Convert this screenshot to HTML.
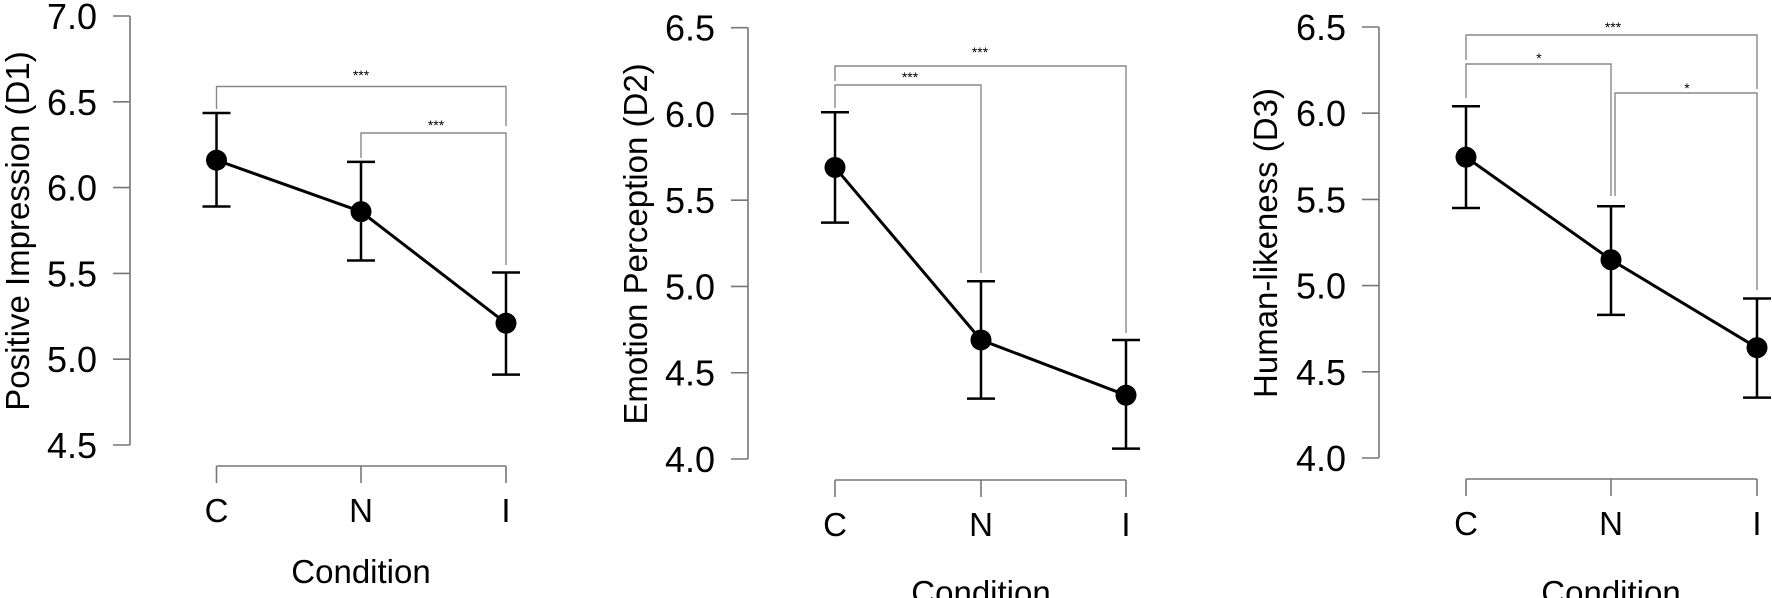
<!DOCTYPE html>
<html><head><meta charset="utf-8"><style>
html,body{margin:0;padding:0;background:#fff}
svg{display:block}
text{font-family:"Liberation Sans",Arial,sans-serif;fill:#000}
</style></head><body>
<svg id="chart" width="1772" height="598" viewBox="0 0 1772 598" xmlns="http://www.w3.org/2000/svg"></svg>
<script>
const categories = ["C","N","I"];
const d1Means = [6.16, 5.86, 5.21];
const d1Upper = [6.435, 6.15, 5.505];
const d1Lower = [5.89, 5.575, 4.91];
const d2Means = [5.69, 4.69, 4.37];
const d2Upper = [6.01, 5.03, 4.69];
const d2Lower = [5.37, 4.35, 4.06];
const d3Means = [5.745, 5.15, 4.64];
const d3Upper = [6.04, 5.46, 4.925];
const d3Lower = [5.45, 4.83, 4.35];
const d1Ticks = ["4.5","5.0","5.5","6.0","6.5","7.0"];
const d2Ticks = ["4.0","4.5","5.0","5.5","6.0","6.5"];
const d3Ticks = ["4.0","4.5","5.0","5.5","6.0","6.5"];
const d1Sig = ["***","***"];
const d2Sig = ["***","***"];
const d3Sig = ["***","*","*"];

const NS = "http://www.w3.org/2000/svg";
const svg = document.getElementById("chart");
function mk(tag, attrs, parent){const e=document.createElementNS(NS,tag);for(const k in attrs)e.setAttribute(k,attrs[k]);(parent||svg).appendChild(e);return e;}

const panels = [
 {key:"d1",title:"Positive Impression (D1)",means:d1Means,up:d1Upper,lo:d1Lower,ticks:d1Ticks,sig:d1Sig,
  ax:130,yTop:16,yBot:445,vTop:7.0,vBot:4.5,xa:466,xs:[216.5,361,506],titleX:29,titleY:231,condY:583,
  br:[{a:0,b:2,y:86.5,ea:109,eb:126,lx:361,ly:80},{a:1,b:2,y:133,ea:158,eb:265,lx:436,ly:130}]},
 {key:"d2",title:"Emotion Perception (D2)",means:d2Means,up:d2Upper,lo:d2Lower,ticks:d2Ticks,sig:d2Sig,
  ax:748,yTop:27.7,yBot:459,vTop:6.5,vBot:4.0,xa:480,xs:[835,981,1126],titleX:647,titleY:244,condY:604,
  br:[{a:0,b:2,y:66,ea:81,eb:333,lx:980,ly:57},{a:0,b:1,y:85,ea:108,eb:273,lx:910,ly:82}]},
 {key:"d3",title:"Human-likeness (D3)",means:d3Means,up:d3Upper,lo:d3Lower,ticks:d3Ticks,sig:d3Sig,
  ax:1379,yTop:27,yBot:458,vTop:6.5,vBot:4.0,xa:479,xs:[1466,1611,1757],titleX:1277,titleY:243,condY:604,
  br:[{a:0,b:2,y:35,ea:60,eb:89,lx:1613,ly:32},{a:0,b:1,y:64,ea:98,eb:196,lx:1539,ly:63},{a:1,b:2,y:93,ea:196,eb:290,lx:1687,ly:93,off:4}]}
];

panels.forEach(p=>{
  const g = mk("g",{});
  
  
  const y = v => p.yTop + (p.vTop - v) * (p.yBot - p.yTop) / (p.vTop - p.vBot);
  const x = i => p.xs[i];
  // y axis
  const yax = mk("line",{x1:p.ax,x2:p.ax,y1:p.yTop,y2:p.yBot,stroke:"#777","stroke-width":1.6},g);
  
  
  p.ticks.forEach(t=>{
    const v = parseFloat(t);
    mk("line",{x1:p.ax-17,x2:p.ax,y1:y(v),y2:y(v),stroke:"#777","stroke-width":1.6},g);
    const tx = mk("text",{x:p.ax-33,y:y(v)+13,"font-size":36,"text-anchor":"end"},g);
    tx.textContent = t;
    
    
  });
  const yt = mk("text",{x:0,y:0,"font-size":33,"text-anchor":"middle",transform:`translate(${p.titleX},${p.titleY}) rotate(-90)`},g);
  yt.textContent = p.title;
  
  
  // x axis
  const xax = mk("line",{x1:x(0),x2:x(categories.length-1),y1:p.xa,y2:p.xa,stroke:"#777","stroke-width":1.6},g);
  
  
  categories.forEach((c,i)=>{
    mk("line",{x1:x(i),x2:x(i),y1:p.xa,y2:p.xa+17,stroke:"#777","stroke-width":1.6},g);
    const tx = mk("text",{x:x(i),y:p.xa+56,"font-size":33,"text-anchor":"middle"},g);
    tx.textContent = c;
    
    
  });
  const ct = mk("text",{x:x(1),y:p.condY,"font-size":33,"text-anchor":"middle"},g);
  ct.textContent = "Condition";
  
  
  // brackets
  p.br.forEach((b,k)=>{
    const xa = x(b.a) + (b.off||0), xb = x(b.b);
    const pl = mk("polyline",{points:`${xa},${b.ea} ${xa},${b.y} ${xb},${b.y} ${xb},${b.eb}`,fill:"none",stroke:"#888","stroke-width":1.4},g);
    
    
    const st = mk("text",{x:b.lx,y:b.ly,"font-size":14,"text-anchor":"middle"},g);
    st.textContent = p.sig[k];
    
    
  });
  // line
  const ln = mk("polyline",{points:p.means.map((m,i)=>`${x(i)},${y(m)}`).join(" "),fill:"none",stroke:"#000","stroke-width":3},g);
  
  
  p.means.forEach((m,i)=>{
    const eb = mk("path",{d:`M${x(i)},${y(p.up[i])}V${y(p.lo[i])}M${x(i)-14},${y(p.up[i])}H${x(i)+14}M${x(i)-14},${y(p.lo[i])}H${x(i)+14}`,stroke:"#000","stroke-width":2.5,fill:"none"},g);
    
    
    const pt = mk("circle",{cx:x(i),cy:y(m),r:10.5,fill:"#000"},g);
    
    
  });
});
</script>
</body></html>
